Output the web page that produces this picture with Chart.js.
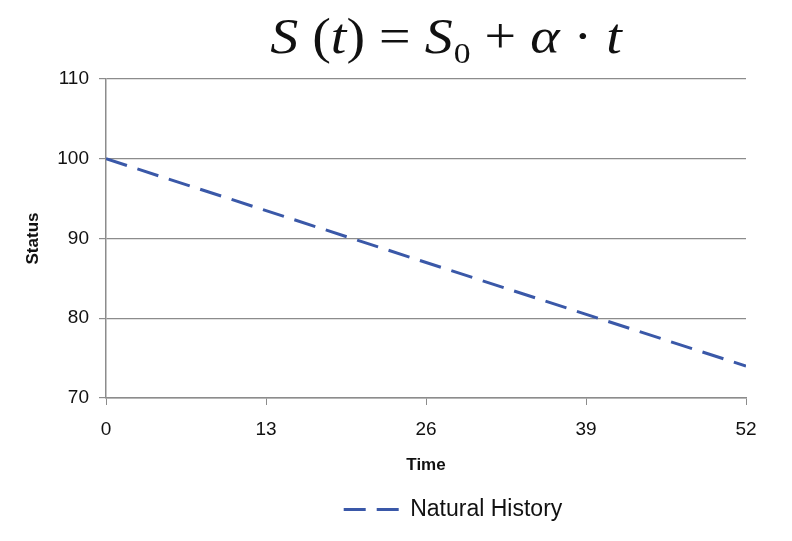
<!DOCTYPE html>
<html>
<head>
<meta charset="utf-8">
<script src="https://cdn.jsdelivr.net/npm/chart.js@4.4.1/dist/chart.umd.min.js"></script>
<style>
  body { margin: 0; background: #fff; }
  #wrap { position: relative; width: 792px; height: 541px; }
  #formula {
    position: absolute; top: 6px; left: 246px; width: 400px;
    text-align: center; font-family: "Liberation Serif", "Times New Roman", serif;
    font-size: 50px; color: #111; white-space: nowrap; line-height: 60px;
    transform: scaleX(1.12); transform-origin: center;
  }
  #formula i { font-style: italic; }
  #formula sub { font-size: 30px; vertical-align: -10px; line-height: 0; margin-left: 1px; }
</style>
</head>
<body>
<div id="wrap">
  <canvas id="myChart" width="792" height="541"></canvas>
  <div id="formula"><i>S</i> (<i>t</i>) = <i>S</i><sub>0</sub> + <i>α</i> · <i>t</i></div>
</div>
<script>
const times = [0, 52];
const status = [100, 74];
const xTicks = [0, 13, 26, 39, 52];
const yTicks = [70, 80, 90, 100, 110];

const gray = '#8c8c8c';
const lineBlue = '#3a58a8';
const dash = [22, 11];
const tickFont = { family: 'Liberation Sans, Arial, sans-serif', size: 19 };

// legend sits right of the canvas centre in the original
const shiftLegend = {
    id: 'shiftLegend',
    afterLayout(chart) {
        if (chart.legend) {
            chart.legend.left += 80;
            chart.legend.right += 80;
        }
    }
};

const ctx = document.getElementById('myChart').getContext('2d');
new Chart(ctx, {
    type: 'line',
    data: {
        datasets: [
            {
                label: 'Natural History',
                data: times.map((t, i) => ({ x: t, y: status[i] })),
                borderColor: lineBlue,
                backgroundColor: lineBlue,
                borderWidth: 3,
                borderDash: dash,
                pointRadius: 0,
                fill: false
            }
        ]
    },
    options: {
        responsive: false,
        animation: false,
        layout: { padding: { top: 79, right: 46, left: 0, bottom: 10 } },
        scales: {
            x: {
                type: 'linear',
                min: 0,
                max: 52,
                afterBuildTicks: (scale) => { scale.ticks = xTicks.map(v => ({ value: v })); },
                afterFit: (scale) => { scale.height = 92; },
                ticks: { color: '#111', font: tickFont, padding: 13, maxRotation: 0 },
                grid: { drawOnChartArea: false, drawTicks: true, tickLength: 7, color: gray },
                border: { color: gray, width: 1.5 },
                title: {
                    display: true, text: 'Time', color: '#111',
                    font: { family: 'Liberation Sans, Arial, sans-serif', size: 17, weight: 'bold' },
                    padding: { top: 4, bottom: 14 }
                }
            },
            y: {
                min: 70,
                max: 110,
                afterBuildTicks: (scale) => { scale.ticks = yTicks.map(v => ({ value: v })); },
                afterFit: (scale) => { scale.width = 106; },
                ticks: { color: '#111', font: tickFont, padding: 10 },
                grid: { color: gray, lineWidth: 1.2, tickLength: 7 },
                border: { color: gray, width: 1.5 },
                title: {
                    display: true, text: 'Status', color: '#111',
                    font: { family: 'Liberation Sans, Arial, sans-serif', size: 17, weight: 'bold' },
                    padding: { top: 23, bottom: 0 }
                }
            }
        },
        plugins: {
            title: { display: false },
            tooltip: { enabled: false },
            legend: {
                position: 'bottom',
                labels: {
                    usePointStyle: true,
                    pointStyle: 'line',
                    pointStyleWidth: 55,
                    color: '#111',
                    font: { family: 'Liberation Sans, Arial, sans-serif', size: 23 },
                    padding: 8,
                    generateLabels: (chart) => {
                        const items = Chart.defaults.plugins.legend.labels.generateLabels(chart);
                        items.forEach(it => {
                            it.lineDash = dash;
                            it.strokeStyle = lineBlue;
                            it.lineWidth = 3;
                        });
                        return items;
                    }
                }
            }
        }
    },
    plugins: [shiftLegend]
});
</script>
</body>
</html>
